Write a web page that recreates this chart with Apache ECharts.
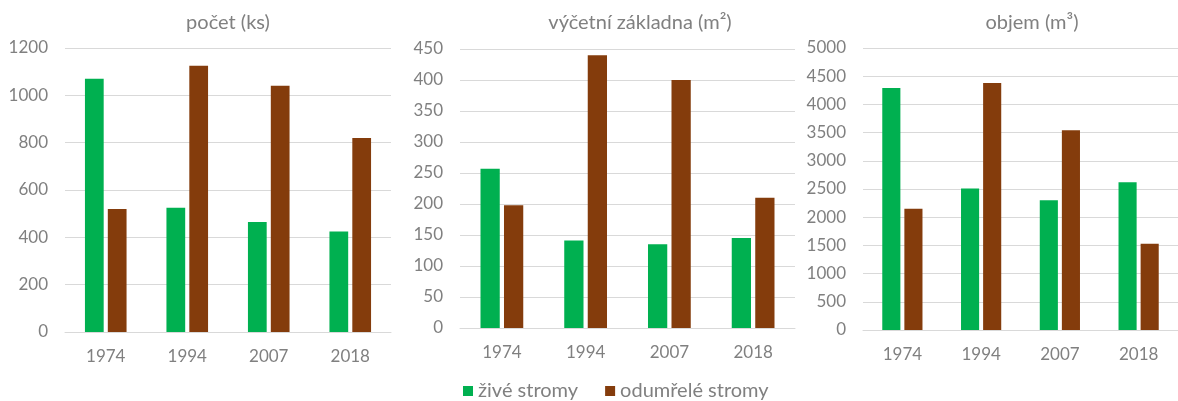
<!DOCTYPE html>
<html>
<head>
<meta charset="utf-8">
<script src="https://cdn.jsdelivr.net/npm/echarts@6/dist/echarts.min.js"></script>
<style>
  html, body { margin: 0; padding: 0; background: #fff; }
  #main { width: 1178px; height: 401px; }
</style>
</head>
<body>
<div id="main"></div>
<script>
// categories and series
var years = ['1974', '1994', '2007', '2018'];
var seriesNames = ['živé stromy', 'odumřelé stromy'];

var titles = ['počet (ks)', 'výčetní základna (m²)', 'objem (m³)'];

var countLive = [1070, 525, 465, 425];
var countDead = [520, 1125, 1040, 820];

var basalLive = [257, 141, 135, 145];
var basalDead = [198, 440, 400, 210];

var volumeLive = [4290, 2510, 2300, 2620];
var volumeDead = [2150, 4380, 3540, 1530];

var yMax = [1200, 450, 5000];
var yStep = [200, 50, 500];

var colors = ['#00b050', '#843c0c'];
var textColor = '#808080';
var fontFamily = 'Lato, "Noto Sans", sans-serif';

// panel placement (px)
var grids = [
    {left: 65, width: 326, top: 48, height: 284},
    {left: 460, width: 335, top: 49, height: 279},
    {left: 863, width: 325, top: 48, height: 282}
];
var titleX = [223, 635, 1027];

var data = [[countLive, countDead], [basalLive, basalDead], [volumeLive, volumeDead]];

var chart = echarts.init(document.getElementById('main'));

var option = {
    animation: false,
    textStyle: {fontFamily: fontFamily},
    title: titles.map(function (t, i) {
        return {
            text: t,
            left: titleX[i],
            top: 8,
            textAlign: 'center',
            textStyle: {
                color: textColor,
                fontSize: 20,
                fontWeight: 'normal',
                fontFamily: fontFamily
            }
        };
    }),
    legend: {
        data: seriesNames,
        left: 458,
        top: 376,
        icon: 'rect',
        itemWidth: 10,
        itemHeight: 10,
        itemGap: 27,
        textStyle: {
            color: textColor,
            fontSize: 20,
            fontFamily: fontFamily
        }
    },
    grid: grids,
    xAxis: grids.map(function (g, i) {
        return {
            type: 'category',
            gridIndex: i,
            data: years,
            axisTick: {show: false},
            axisLine: {lineStyle: {color: '#d9d9d9', width: 1}},
            axisLabel: {color: textColor, fontSize: 17, margin: 16, fontFamily: fontFamily}
        };
    }),
    yAxis: grids.map(function (g, i) {
        return {
            type: 'value',
            gridIndex: i,
            min: 0,
            max: yMax[i],
            interval: yStep[i],
            axisLine: {show: false},
            axisTick: {show: false},
            splitLine: {lineStyle: {color: '#d9d9d9', width: 1}},
            axisLabel: {
                color: textColor,
                fontSize: 17,
                margin: 17,
                fontFamily: fontFamily,
                formatter: function (v) { return String(v); }
            }
        };
    }),
    series: []
};

data.forEach(function (pair, i) {
    pair.forEach(function (vals, s) {
        option.series.push({
            name: seriesNames[s],
            type: 'bar',
            xAxisIndex: i,
            yAxisIndex: i,
            data: vals,
            barWidth: '23%',
            barGap: '22%',
            itemStyle: {color: colors[s]}
        });
    });
});

chart.setOption(option);
</script>
</body>
</html>
